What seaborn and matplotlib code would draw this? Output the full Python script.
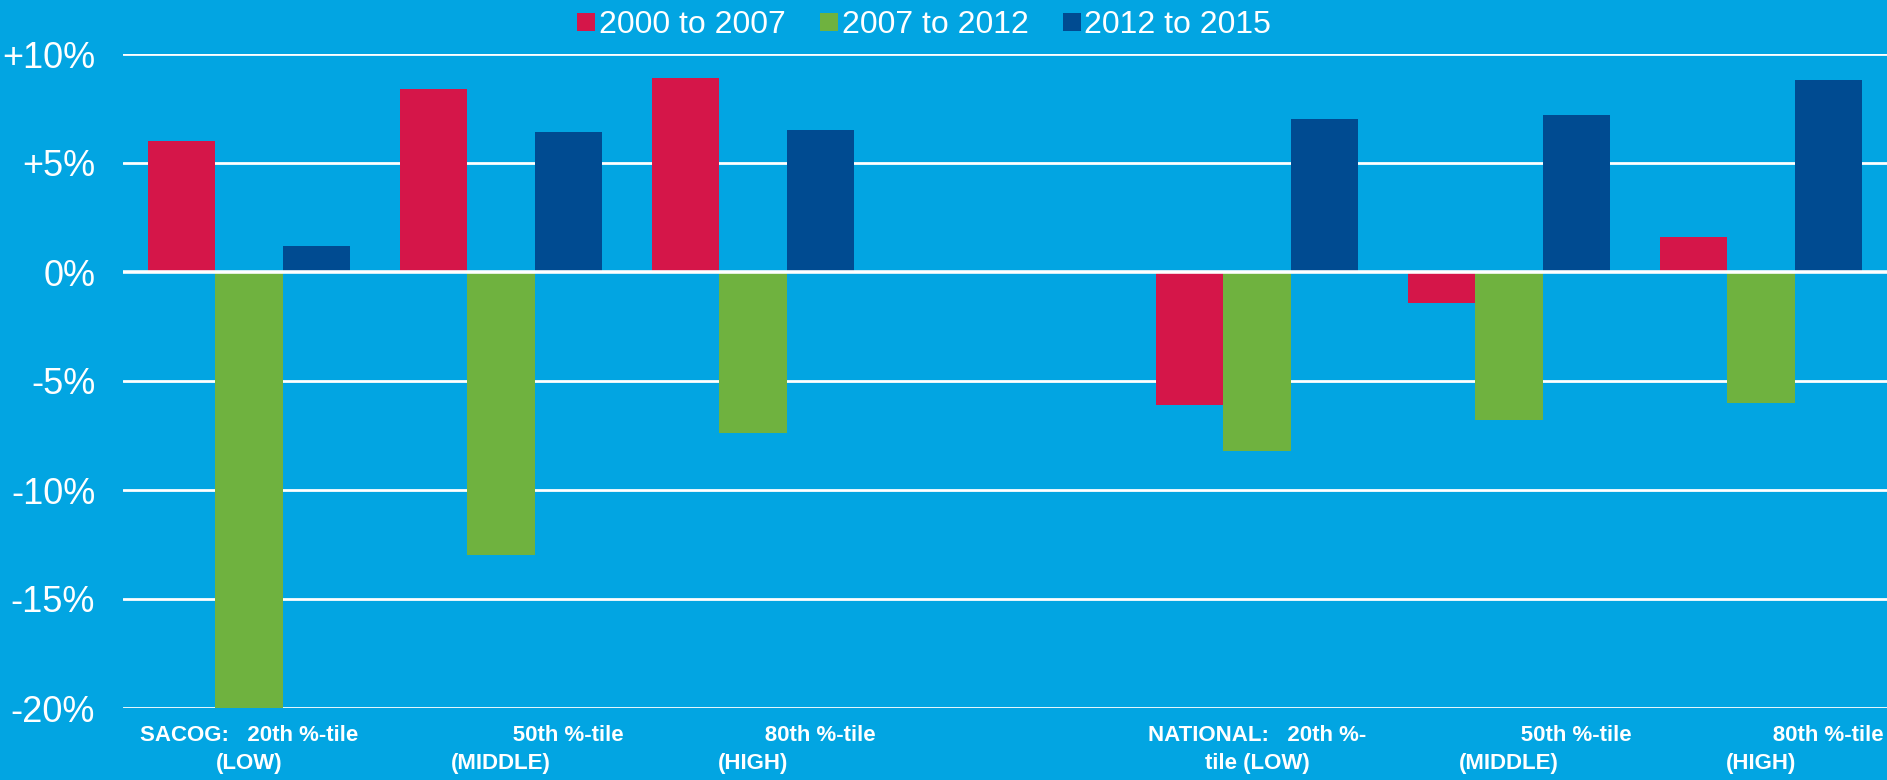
import numpy as np
import pandas as pd
import matplotlib
matplotlib.use("Agg")
import matplotlib.pyplot as plt
from matplotlib.lines import Line2D
import seaborn as sns

# data (percent change)
groups = ["SACOG 20th", "SACOG 50th", "SACOG 80th", " ",
          "NATIONAL 20th", "NATIONAL 50th", "NATIONAL 80th"]
periods = ["2000 to 2007", "2007 to 2012", "2012 to 2015"]
chg_2000_2007 = [6.0, 8.4, 8.9, np.nan, -6.1, -1.4, 1.6]
chg_2007_2012 = [-20.0, -13.0, -7.4, np.nan, -8.2, -6.8, -6.0]
chg_2012_2015 = [1.2, 6.4, 6.5, np.nan, 7.0, 7.2, 8.8]

label_top = ["SACOG:   20th %-tile", "50th %-tile", "80th %-tile", "",
             "NATIONAL:   20th %-", "50th %-tile", "80th %-tile"]
label_bottom = ["(LOW)", "(MIDDLE)", "(HIGH)", "",
                "tile (LOW)", "(MIDDLE)", "(HIGH)"]

yticks = [10, 5, 0, -5, -10, -15, -20]
ytick_labels = ["+10%", "+5%", "0%", "-5%", "-10%", "-15%", "-20%"]

colors = ["#D51649", "#6FB23F", "#004B91"]
bg = "#02A5E2"

rows = []
for p, vals in zip(periods, [chg_2000_2007, chg_2007_2012, chg_2012_2015]):
    for g, v in zip(groups, vals):
        if not np.isnan(v):
            rows.append({"group": g, "period": p, "change": v})
df = pd.DataFrame(rows)

sns.set_theme(style="white")
plt.rcParams["font.family"] = ["Liberation Sans", "DejaVu Sans"]

fig = plt.figure(figsize=(18.87, 7.8), dpi=100)
fig.patch.set_facecolor(bg)
ax = fig.add_axes([123 / 1887, 1 - 708 / 780, 1 - 123 / 1887, 654 / 780])
ax.set_facecolor(bg)

for y in yticks:
    ax.axhline(y, color="white", lw=2.0 if y != 0 else 2.6, zorder=0 if y != 0 else 3)

sns.barplot(data=df, x="group", y="change", hue="period", order=groups,
            hue_order=periods, palette=colors, width=0.8, saturation=1,
            linewidth=0, edgecolor="none", legend=False, ax=ax, zorder=2)

ax.set_xlim(-0.5, len(groups) - 0.5)
ax.set_ylim(-20, 10)
ax.set_xlabel("")
ax.set_ylabel("")
for s in ax.spines.values():
    s.set_visible(False)

ax.set_yticks(yticks)
ax.set_yticklabels(ytick_labels, fontsize=26, color="white")
ax.tick_params(axis="y", length=0, pad=20)

# the later categories carry leading blanks in the source, so their first line sits right
xlabels = []
for i, (a, b) in enumerate(zip(label_top, label_bottom)):
    pad = "" if (i in (0, 3, 4)) else " " * 22
    xlabels.append(pad + a + "\n" + b if a else "")
ax.set_xticks(range(len(groups)))
ax.set_xticklabels(xlabels, fontsize=16, fontweight="bold", color="white",
                   multialignment="center", linespacing=1.45)
ax.tick_params(axis="x", length=0, pad=12)

handles = [Line2D([], [], marker="s", linestyle="", markersize=12.5,
                  markerfacecolor=c, markeredgewidth=0) for c in colors]
fig.legend(handles, periods, loc="upper center", bbox_to_anchor=(0.49, 1.024),
           ncol=3, frameon=False, fontsize=23, labelcolor="white",
           handletextpad=0.15, columnspacing=1.1, handlelength=0.5)

fig.savefig("out.png", dpi=100, facecolor=bg)
